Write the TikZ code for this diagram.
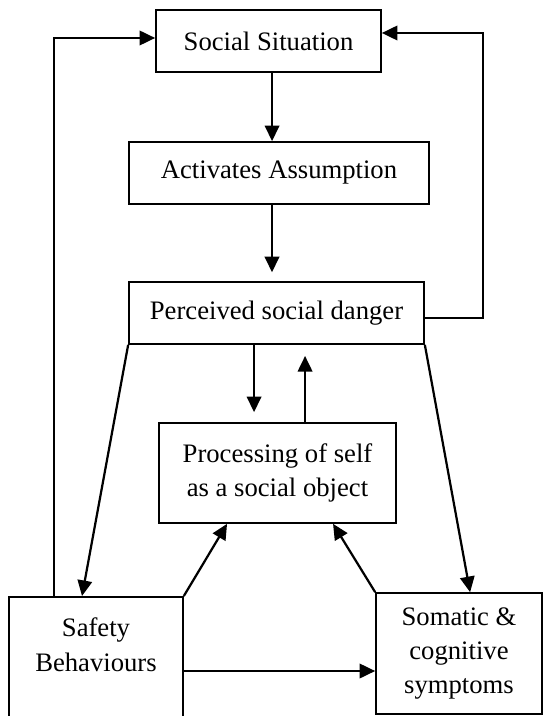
\documentclass[tikz,border=0pt]{standalone}
\usepackage{fontspec}
\setmainfont{Liberation Serif}
\usetikzlibrary{arrows.meta}

\begin{document}
\begin{tikzpicture}[x=0.45pt,y=-0.45pt,
  every node/.style={draw,line width=0.75pt,align=center,inner sep=0pt,font=\fontsize{12}{15.5}\selectfont},
  arr/.style={-{Triangle[length=7pt,width=6.5pt]},line width=1pt}]
\useasboundingbox (0,0) rectangle (544,716);
\node (social) [minimum width=101.25pt,minimum height=27.9pt] at (268.5,41) {Social Situation};
\node (assump) [minimum width=135pt,minimum height=27.9pt] at (279,173) {Activates Assumption};
\node (danger) [minimum width=132.75pt,minimum height=27.9pt] at (276.5,313) {Perceived social danger};
\node (proc)   [minimum width=106.65pt,minimum height=45pt] at (277.5,473) {Processing of self\\as a social object};
\node (safety) [anchor=north,minimum width=78.3pt,minimum height=66pt,
  label={[draw=none,anchor=north,yshift=-9.5pt]north:Safety\\Behaviours}] at (96,596) {};
\node (somatic)[minimum width=74.7pt,minimum height=54.45pt] at (459,653.5) {Somatic \&\\cognitive\\symptoms};
\draw[arr] ([xshift=1.6pt]social.south) -- ([xshift=1.6pt]social.south |- assump.north);
\draw[arr,shorten >=4pt] ([xshift=-3.15pt]assump.south) -- ([xshift=-3.15pt]assump.south |- danger.north);
\draw[arr,shorten >=4.5pt] ([xshift=-10.1pt]danger.south) -- ([xshift=-10.1pt]danger.south |- proc.north);
\draw[arr,shorten >=5pt] ([xshift=12.4pt]proc.north) -- ([xshift=12.4pt]proc.north |- danger.south);
\draw[arr] ([yshift=-2.25pt]danger.east) -- ++(26.1pt,0) |- ([yshift=3.6pt]social.east);
\draw[arr] ([xshift=20.7pt]safety.north west) |- ([yshift=1.35pt]social.west);
\draw[arr] (danger.south west) -- ([xshift=-6.3pt]safety.north);
\draw[arr] (danger.south east) -- ([xshift=5pt]somatic.north);
\draw[arr] (safety.north east) -- ([xshift=-22.7pt]proc.south);
\draw[arr] (somatic.north west) -- ([xshift=25pt]proc.south);
\coordinate (sbr) at ([yshift=-33.75pt]safety.north east);
\draw[arr] (sbr) -- (sbr -| somatic.west);
\end{tikzpicture}
\end{document}
